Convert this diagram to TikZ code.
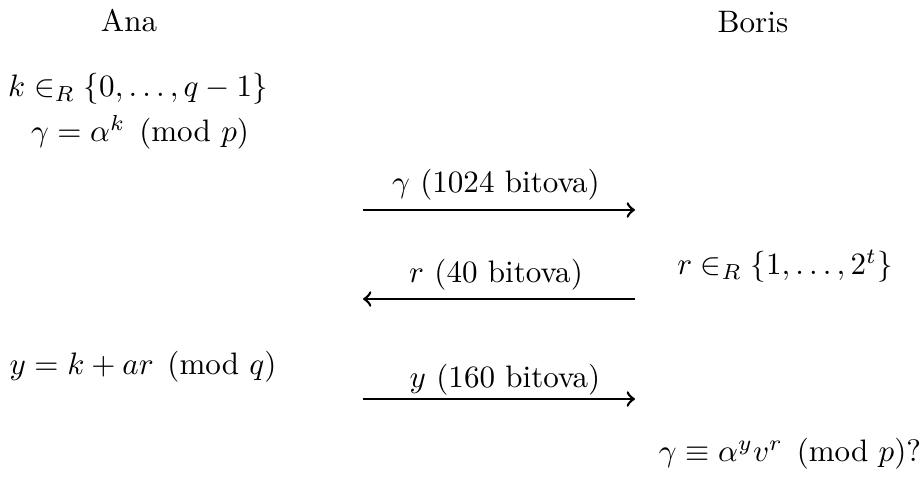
\documentclass[tikz,border=0pt]{standalone}
\usepackage{amsmath,amssymb}
\usepackage{tikz}
\usetikzlibrary{positioning,calc}

\begin{document}
\begin{tikzpicture}[x=0.322pt,y=-0.322pt,>=to,
  msg/.style={->,line width=0.85pt},
  lbl/.style={inner sep=0pt,anchor=base}]
  \useasboundingbox (0,0) rectangle (924,477);
  % parties
  \node[lbl] (ana) at (129,32) {Ana};
  \node[lbl] (boris) at (753,33) {Boris};
  % Ana's side
  \node[lbl] (kchoice) at (138,97) {$k \in_R \{0,\ldots,q-1\}$};
  \node[lbl] (gamma) at (140,142) {$\gamma = \alpha^k \pmod{p}$};
  \node[lbl] (yval) at (143,375) {$y = k + ar \pmod{q}$};
  % Boris' side
  \node[lbl] (rchoice) at (785,275) {$r \in_R \{1,\ldots,2^t\}$};
  \node[lbl] (check) at (790,462) {$\gamma \equiv \alpha^y v^r \pmod{p}?$};
  % messages
  \coordinate (m1l) at (363,210);
  \coordinate (m1r) at (635,210);
  \coordinate (m2l) at (363,299);
  \coordinate (m2r) at (635,299);
  \coordinate (m3l) at (363,399);
  \coordinate (m3r) at (635,399);
  \draw[msg] (m1l) -- (m1r);
  \draw[msg] (m2r) -- (m2l);
  \draw[msg] (m3l) -- (m3r);
  \node[lbl] (m1lbl) at (496,193) {$\gamma$ (1024 bitova)};
  \node[lbl] (m2lbl) at (496,283) {$r$ (40 bitova)};
  \node[lbl] (m3lbl) at (505,388) {$y$ (160 bitova)};
\end{tikzpicture}
\end{document}
